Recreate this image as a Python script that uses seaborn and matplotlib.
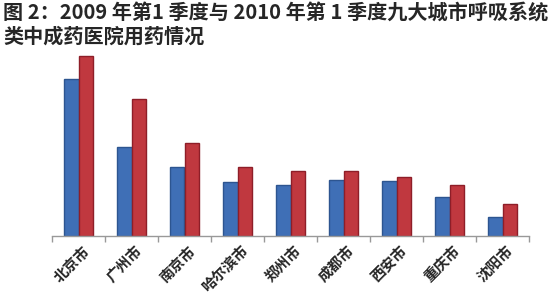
import matplotlib
matplotlib.use("Agg")
import matplotlib.pyplot as plt
import matplotlib.transforms as mtransforms
import seaborn as sns
import pandas as pd
import numpy as np

cities = ["北京市", "广州市", "南京市", "哈尔滨市", "郑州市", "成都市", "西安市", "重庆市", "沈阳市"]
values_2009 = [157, 89, 69, 54, 51, 56, 55, 39, 19]
values_2010 = [180, 137, 93, 69, 65, 65, 59, 51, 32]
series = ["2009年第1季度", "2010年第1季度"]

sns.set_theme(style="white")
plt.rcParams['font.family'] = ['Noto Sans CJK SC', 'DejaVu Sans']

df = pd.DataFrame({
    "city": cities * 2,
    "value": values_2009 + values_2010,
    "series": [series[0]] * len(cities) + [series[1]] * len(cities),
})

fig = plt.figure(figsize=(5.5, 2.97), dpi=100)
ax = fig.add_axes([52/550, 1 - 236/297, 477/550, 186/297])

sns.barplot(data=df, x="city", y="value", hue="series", order=cities,
            hue_order=series, palette=["#3F6FB6", "#C0383F"], width=0.56,
            saturation=1, ax=ax, legend=False)
edges = ["#2D5590", "#8E1E28"]
for i, cont in enumerate(ax.containers):
    for p in cont:
        p.set_edgecolor(edges[i])
        p.set_linewidth(1.0)

ax.set_xlim(-0.5, len(cities) - 0.5)
ax.set_ylim(0, 186)
ax.set_xlabel("")
ax.set_ylabel("")
ax.set_yticks([])
for s in ["top", "right", "left"]:
    ax.spines[s].set_visible(False)
ax.spines["bottom"].set_color("#999999")
ax.spines["bottom"].set_linewidth(1.0)

ax.set_xticks(range(len(cities)))
ax.set_xticklabels(cities, rotation=45, ha="right", rotation_mode="anchor",
                   fontsize=10.5, fontweight="bold")
ax.tick_params(axis="x", which="major", length=0, pad=5)
offset = mtransforms.ScaledTranslation(3/100, 0, fig.dpi_scale_trans)
for lab in ax.get_xticklabels():
    lab.set_transform(lab.get_transform() + offset)
ax.set_xticks(np.arange(-0.5, len(cities)), minor=True)
ax.tick_params(axis="x", which="minor", bottom=True, length=4, color="#999999", width=1)

fig.text(3/550, 1 - 3/297, "图 2：2009 年第1 季度与 2010 年第 1 季度九大城市呼吸系统",
         fontsize=14.5, fontweight="bold", va="top", ha="left")
fig.text(3/550, 1 - 26/297, "类中成药医院用药情况",
         fontsize=14.5, fontweight="bold", va="top", ha="left")

fig.savefig("out.png", dpi=100)
